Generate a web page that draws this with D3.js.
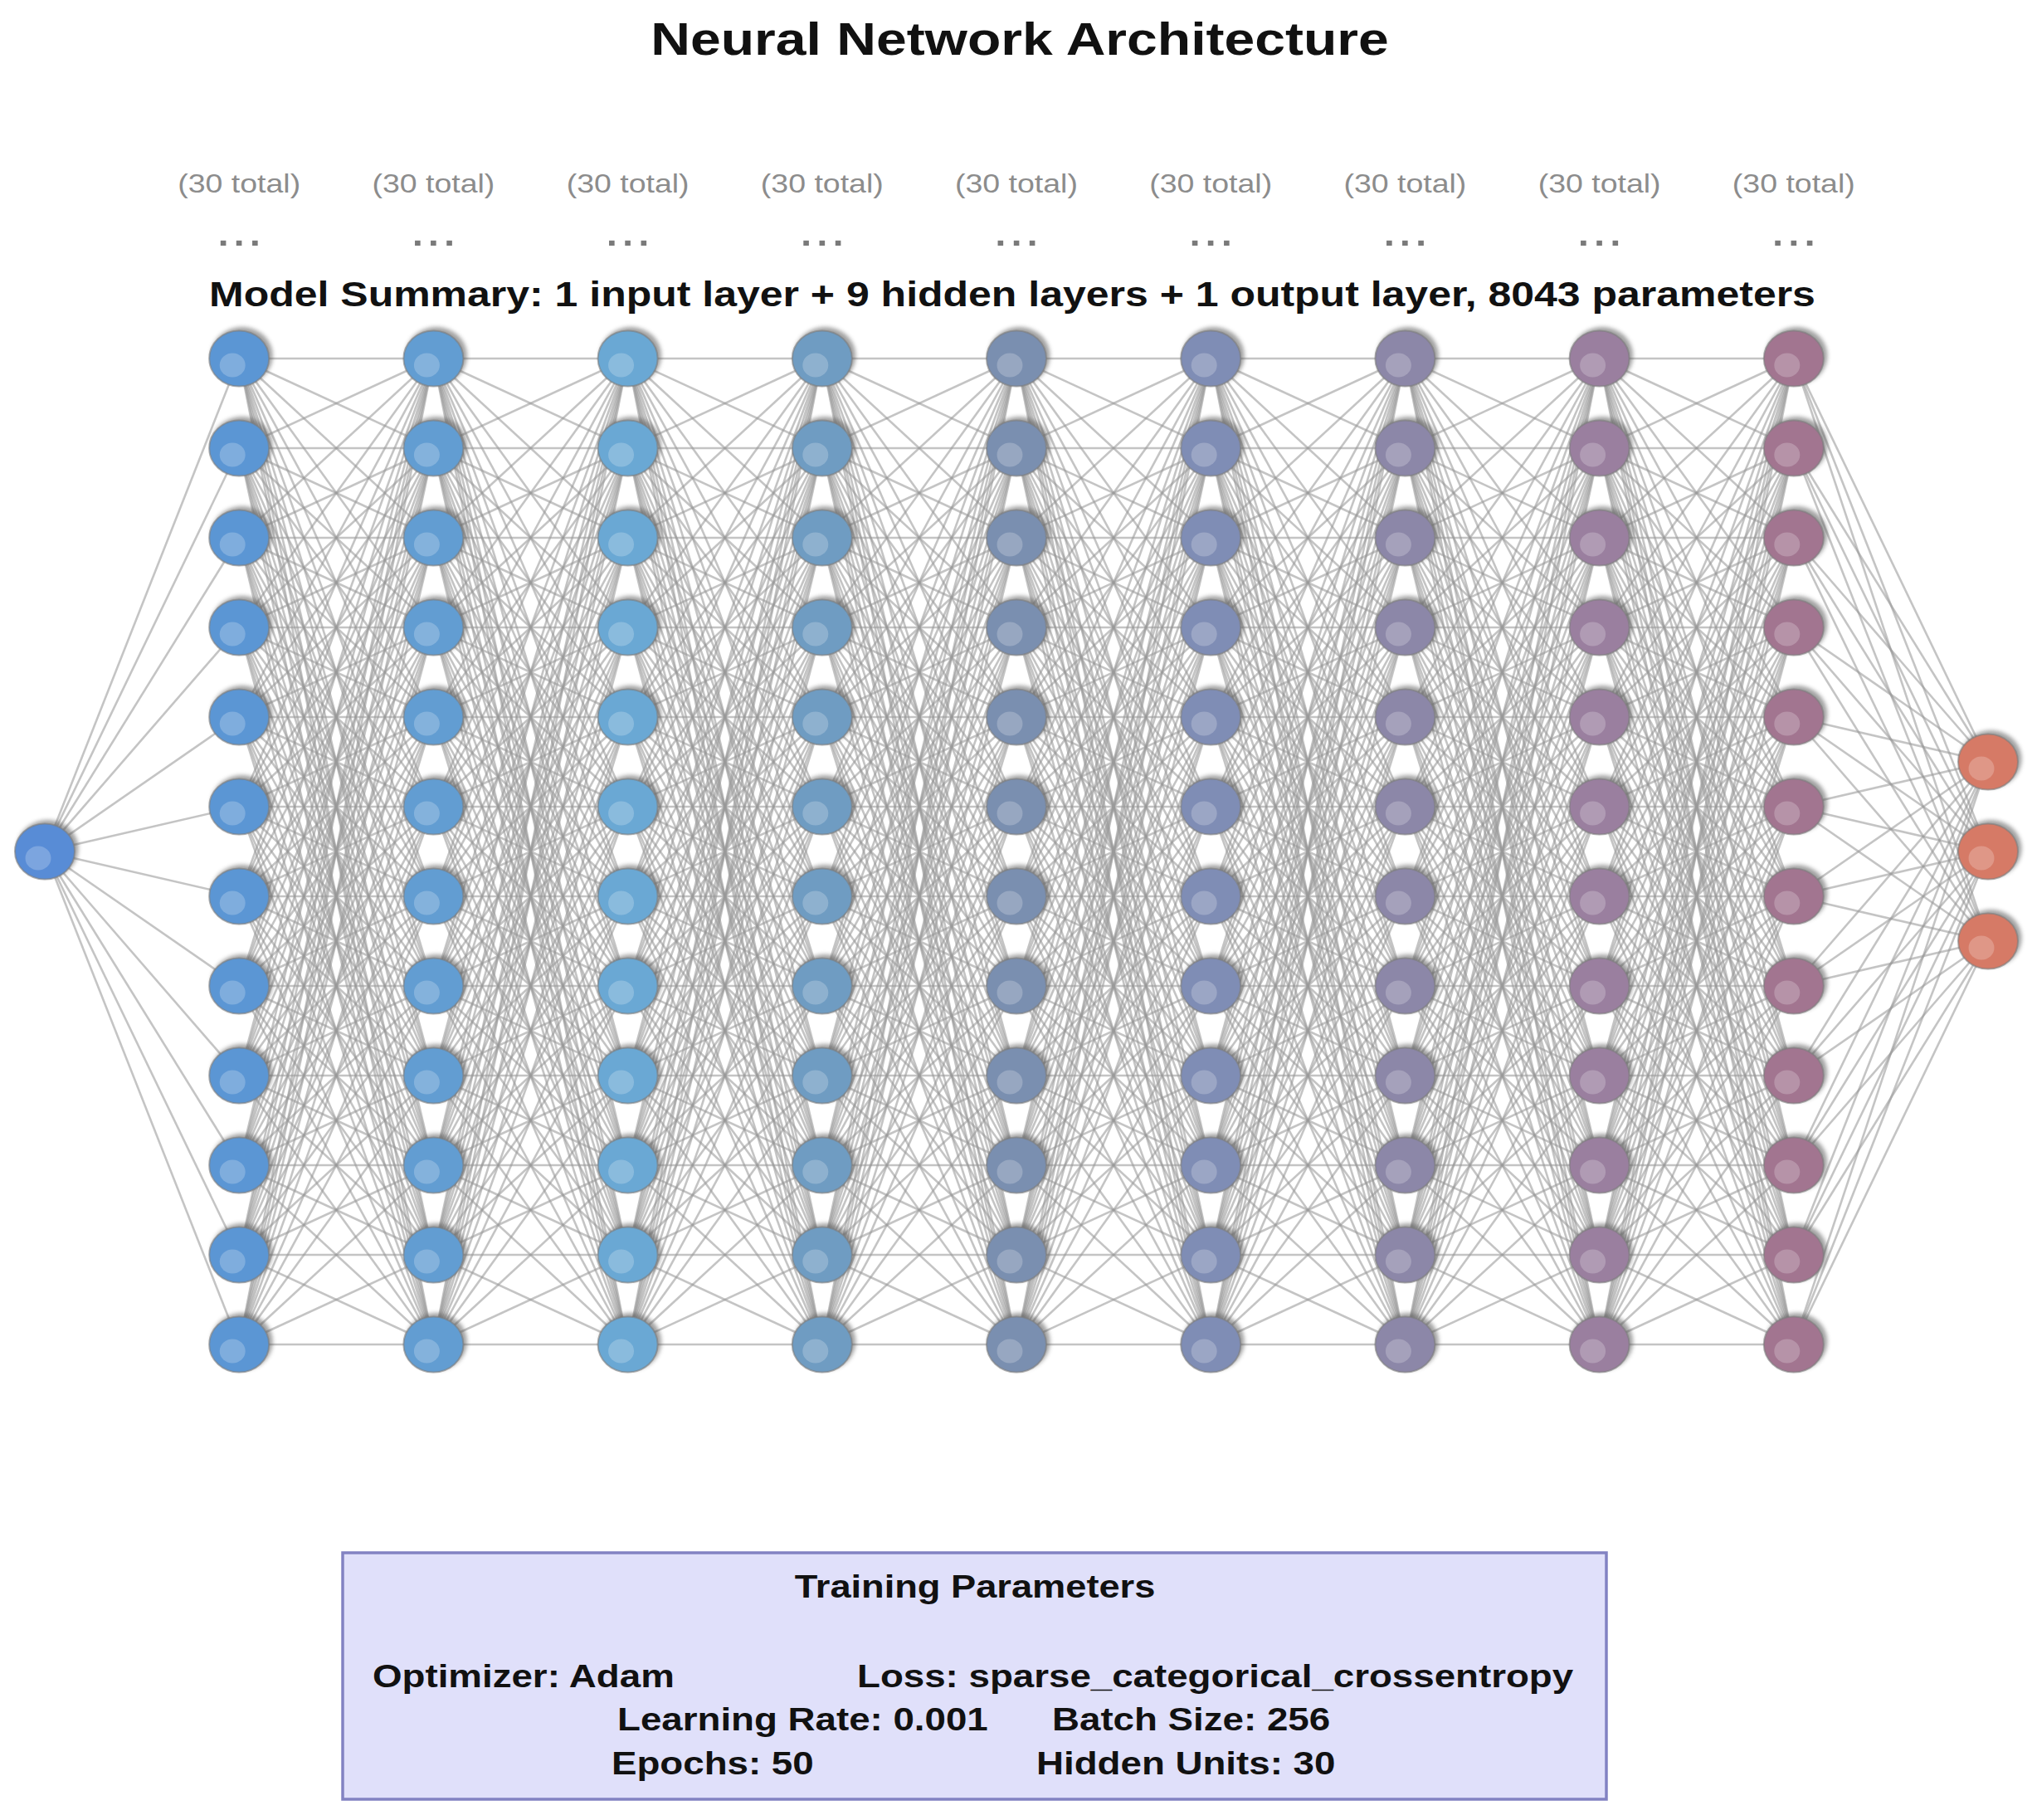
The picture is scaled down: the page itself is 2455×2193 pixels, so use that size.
<!DOCTYPE html>
<html>
<head>
<meta charset="utf-8">
<script src="https://cdn.jsdelivr.net/npm/d3@7"></script>
<style>
  html, body { margin: 0; padding: 0; background: #ffffff; }
  svg { display: block; }
  text { font-family: "Liberation Sans", Arial, "DejaVu Sans", sans-serif; }
</style>
</head>
<body>
<svg id="chart" width="2455" height="2193"></svg>
<script>
// ---------------- data ----------------
const chartTitle = "Neural Network Architecture";
const layerNames = ["input", "h1", "h2", "h3", "h4", "h5", "h6", "h7", "h8", "h9", "output"];
const shownNodes = [1, 12, 12, 12, 12, 12, 12, 12, 12, 12, 3];
const totalUnits = [null, 30, 30, 30, 30, 30, 30, 30, 30, 30, null];
const layerColors = ["#588cd6", "#5b96d4", "#629dd2", "#6aa8d4", "#6f9cc2", "#7a8fb0",
                     "#7f8db5", "#8c87a8", "#9a7f9f", "#a27590", "#d67a66"];
const summaryText = "Model Summary: 1 input layer + 9 hidden layers + 1 output layer, 8043 parameters";
const boxTitle = "Training Parameters";
const paramLeft = ["Optimizer: Adam", "Learning Rate: 0.001", "Epochs: 50"];
const paramRight = ["Loss: sparse_categorical_crossentropy", "Batch Size: 256", "Hidden Units: 30"];

// ---------------- layout ----------------
const svg = d3.select("#chart");
const SX = 1.19; // horizontal stretch of the lettering in the reference

function txt(sel, px, py) {
  return sel.append("text").attr("transform", `translate(${px},${py}) scale(${SX},1)`);
}

const x = d3.scalePoint().domain(layerNames).range([54, 2396]);
const rowSpacing = 108, centerY = 1026;
const y = d3.scaleLinear().domain([-5.5, 5.5]).range([centerY - 5.5 * rowSpacing, centerY + 5.5 * rowSpacing]);

const nodes = [];
layerNames.forEach((name, li) => {
  const n = shownNodes[li];
  for (let i = 0; i < n; i++) {
    nodes.push({ layer: li, name, idx: i, cx: x(name), cy: y(i - (n - 1) / 2), color: layerColors[li] });
  }
});

const edges = [];
for (let li = 0; li < layerNames.length - 1; li++) {
  const a = nodes.filter(d => d.layer === li);
  const b = nodes.filter(d => d.layer === li + 1);
  a.forEach(s => b.forEach(t => edges.push({ s, t })));
}

const defs = svg.append("defs");
defs.append("filter").attr("id", "blur").attr("x", "-50%").attr("y", "-50%").attr("width", "200%").attr("height", "200%")
  .append("feGaussianBlur").attr("stdDeviation", 2.5);
defs.append("filter").attr("id", "soft").append("feGaussianBlur").attr("stdDeviation", 0.6);

// title
txt(svg, 1229, 66).attr("text-anchor", "middle")
  .attr("font-size", 55.5).attr("font-weight", "bold").attr("fill", "#111").text(chartTitle);

// edges
const line = d3.line().x(d => d[0]).y(d => d[1]);
svg.append("g").attr("filter", "url(#soft)")
  .selectAll("path").data(edges).join("path")
  .attr("d", d => line([[d.s.cx, d.s.cy], [d.t.cx, d.t.cy]]))
  .attr("stroke", "#999999").attr("stroke-opacity", 0.58).attr("stroke-width", 2.6).attr("fill", "none");

// layer labels
const hidden = layerNames.filter((n, i) => totalUnits[i] !== null);
const gl = svg.append("g");
hidden.forEach(name => {
  txt(gl, x(name), 232).attr("text-anchor", "middle")
    .attr("font-size", 31.5).attr("fill", "#8c8c8c")
    .text(`(${totalUnits[layerNames.indexOf(name)]} total)`);
  txt(gl, x(name), 296).attr("text-anchor", "middle")
    .attr("font-size", 58).attr("fill", "#7a7a7a").text("...");
});

// summary
txt(svg, 1220, 369).attr("text-anchor", "middle")
  .attr("font-size", 42).attr("font-weight", "bold").attr("fill", "#111").text(summaryText);

// nodes
const rx = 36, ry = 33.5;
const gN = svg.append("g");
gN.selectAll("ellipse.shadow").data(nodes).join("ellipse").attr("class", "shadow")
  .attr("cx", d => d.cx + 3.5).attr("cy", d => d.cy - 3.5).attr("rx", rx + 1).attr("ry", ry + 1)
  .attr("fill", "#555").attr("opacity", 0.55).attr("filter", "url(#blur)");
gN.selectAll("ellipse.node").data(nodes).join("ellipse").attr("class", "node")
  .attr("cx", d => d.cx).attr("cy", d => d.cy).attr("rx", rx).attr("ry", ry)
  .attr("fill", d => d.color).attr("stroke", "#7d7d7d").attr("stroke-opacity", 0.6).attr("stroke-width", 2);
gN.selectAll("ellipse.hl").data(nodes).join("ellipse").attr("class", "hl")
  .attr("cx", d => d.cx - 8).attr("cy", d => d.cy + 8).attr("rx", 15.5).attr("ry", 14.5)
  .attr("fill", "#ffffff").attr("opacity", 0.22);

// training parameter box
svg.append("rect").attr("x", 413).attr("y", 1871).attr("width", 1523).attr("height", 297)
  .attr("fill", "#e0e0fa").attr("stroke", "#8282c2").attr("stroke-width", 3.5);
txt(svg, 1175, 1925).attr("text-anchor", "middle")
  .attr("font-size", 38).attr("font-weight", "bold").attr("fill", "#111").text(boxTitle);
const leftX = [449, 744, 737], rightX = [1033, 1268, 1249], rowY = [2033, 2085, 2138];
const gp = svg.append("g");
paramLeft.forEach((d, i) => {
  txt(gp, leftX[i], rowY[i]).attr("font-size", 38.4).attr("font-weight", "bold").attr("fill", "#111").text(d);
});
paramRight.forEach((d, i) => {
  txt(gp, rightX[i], rowY[i]).attr("font-size", 38.4).attr("font-weight", "bold").attr("fill", "#111").text(d);
});
</script>
</body>
</html>
